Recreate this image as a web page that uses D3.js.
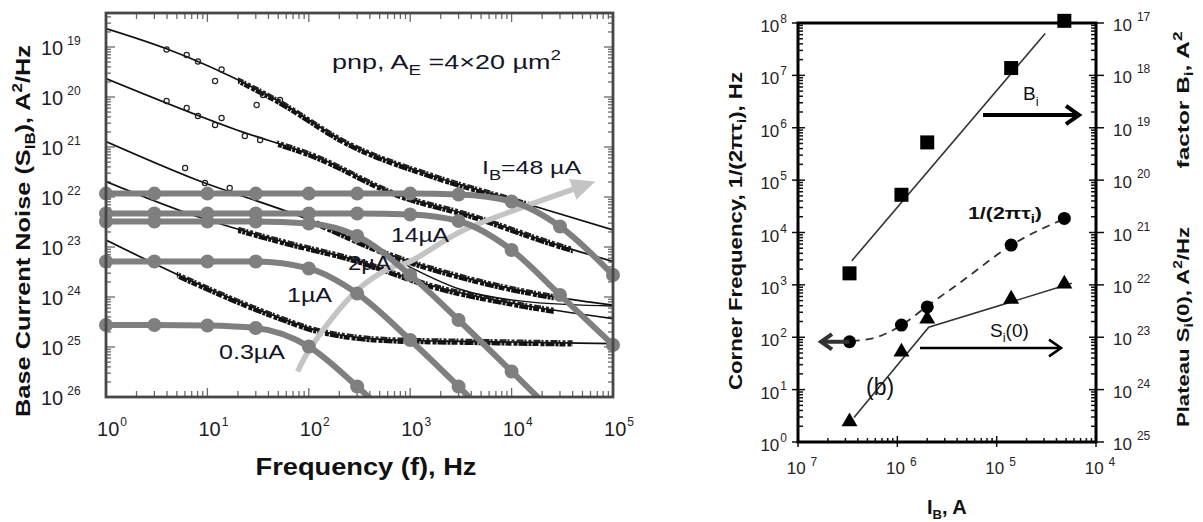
<!DOCTYPE html>
<html><head><meta charset="utf-8">
<script src="https://cdn.jsdelivr.net/npm/d3@7"></script>
<style>
body{margin:0;background:#fff}
svg{display:block}
text{font-family:"Liberation Sans",Arial,sans-serif}
</style>
</head><body>
<svg id="c" width="1203" height="522"></svg>
<script>
// ================= DATA =================
// ---- panel (a): base current noise vs frequency ----
const freqTicks = [1, 10, 100, 1e3, 1e4, 1e5];
const freqTickExp = ["0", "1", "2", "3", "4", "5"];
const noiseTicks = [1e-19, 1e-20, 1e-21, 1e-22, 1e-23, 1e-24, 1e-25, 1e-26];
const noiseTickExp = ["19", "20", "21", "22", "23", "24", "25", "26"];

// measured noise fits (black), [f (Hz), S (A^2/Hz)]
const noise48 = [[1,2.34e-19],[3.9,9.3e-20],[48,8.7e-21],[245,1.17e-21],[1740,2.57e-22],[1.05e4,8.7e-23],[1e5,2.19e-23]];
const noise14 = [[1,2.34e-20],[19.5,2.19e-21],[117,6.46e-22],[708,1.17e-22],[4270,4.07e-23],[2.57e4,1.17e-23],[1e5,5.13e-24]];
const noise2  = [[1,1.29e-21],[7.9,2.19e-22],[83,4.07e-23],[708,6.46e-24],[4270,2.19e-24],[2.57e4,1.02e-24],[1e5,6.9e-25]];
const noise2b = [[800,5.0e-24],[3160,1.41e-24],[1.58e4,7.9e-25],[1e5,6.6e-25]];
const noise1  = [[1,2.04e-22],[7.9,4.07e-23],[48,1.38e-23],[288,5.5e-24],[1740,1.62e-24],[1.05e4,7.4e-25],[1e5,3.7e-25]];
const noise03 = [[1,1.38e-23],[7.9,1.86e-24],[48,4.07e-25],[117,2.19e-25],[708,1.38e-25],[4270,1.29e-25],[1e5,1.17e-25]];
// frequency span where the measured points are dense
const denseSpan = [[20,1.7e4],[48,4e4],[117,2.6e4],[20,2.6e4],[5,4e4]];
// a few sparse low-frequency data circles
const scatter48 = [[3.96,8.91e-20],[6.25,6.92e-20],[8.07,5.13e-20],[11.9,2.09e-20],[13.8,3.55e-20],[30.6,6.92e-21],[35.3,1.10e-20],[52,8.71e-21]];
const scatter14 = [[3.96,8.32e-21],[6.25,6.03e-21],[8.07,4.17e-21],[11.9,2.75e-21],[13.8,3.80e-21],[23.4,1.66e-21],[33.1,1.38e-21]];
const scatter2  = [[6.03,3.80e-22],[9.46,1.91e-22],[16.6,1.51e-22]];

// Lorentzian components (gray), markers at these frequencies
const markerFreq = [1, 3, 10, 30, 100, 300, 1e3, 3e3, 1e4, 3e4, 1e5];
const lor48 = [1.17e-22,1.17e-22,1.17e-22,1.17e-22,1.17e-22,1.17e-22,1.17e-22,1.12e-22,8.13e-23,2.57e-23,2.75e-24];
const lor14 = [4.68e-23,4.68e-23,4.68e-23,4.68e-23,4.68e-23,4.68e-23,4.47e-23,3.31e-23,8.71e-24,1.10e-24,1.10e-25];
const lor2  = [3.24e-23,3.24e-23,3.24e-23,3.24e-23,2.95e-23,1.66e-23,2.75e-24,3.47e-25,3.24e-26,3.63e-27];
const lor1  = [5.13e-24,5.13e-24,5.13e-24,5.13e-24,3.72e-24,1.17e-24,1.38e-25,1.62e-26,1.41e-27];
const lor03 = [2.75e-25,2.75e-25,2.69e-25,2.40e-25,1.02e-25,1.62e-26,1.55e-27];

// light-gray trend arrow through the corner frequencies
const trendF = [77.6, 105, 295, 631, 977, 3090, 9550, 43650];
const trendS = [3.24e-26, 1.0e-25, 1.32e-24, 3.80e-24, 5.01e-24, 2.0e-23, 5.01e-23, 1.51e-22];

// ---- panel (b): parameters vs base current ----
const iBTicks = [1e-7, 1e-6, 1e-5, 1e-4];
const iBTickExp = ["7", "6", "5", "4"];
const cornerTicks = [1,10,100,1e3,1e4,1e5,1e6,1e7,1e8];
const cornerTickExp = ["0","1","2","3","4","5","6","7","8"];
const rightTicks = [1e-17,1e-18,1e-19,1e-20,1e-21,1e-22,1e-23,1e-24,1e-25];
const rightTickExp = ["17","18","19","20","21","22","23","24","25"];

const iB = [3.3e-7, 1.1e-6, 2.0e-6, 1.4e-5, 4.8e-5];
const bFactor = [1.66e-22, 5.25e-21, 5.25e-20, 1.38e-18, 1.10e-17];
const cornerF = [82, 171, 380, 5750, 18600];
const plateauS = [2.34e-25, 5.01e-24, 2.14e-23, 5.13e-23, 1.0e-22];

const bFitI = [3.48e-7, 3.08e-5];
const bFitB = [2.88e-22, 6.31e-18];
const cornerFitI = [3.47e-7, 5.62e-7, 1.10e-6, 1.95e-6, 4.27e-6, 1.41e-5, 4.90e-5];
const cornerFitF = [85, 95, 170, 380, 1100, 5750, 18600];
const plateauFitI = [3.66e-7, 2.07e-6, 5.70e-5];
const plateauFitS = [2.95e-25, 1.55e-23, 1.07e-22];

// ================= DRAW =================
const svg = d3.select("#c");
const defs = svg.append("defs");

function logTicks(lo, hi){
  const out = [];
  const a = Math.floor(Math.log10(Math.min(lo,hi))) - 1, b = Math.ceil(Math.log10(Math.max(lo,hi)));
  const mn = Math.min(lo,hi), mx = Math.max(lo,hi);
  for (let n = a; n <= b; n++) for (let k = 1; k < 10; k++) {
    const v = k * Math.pow(10, n);
    if (v >= mn * 0.999 && v <= mx * 1.001) out.push({v, major: k === 1});
  }
  return out;
}
function powLabel(g, x, y, exp, anchor, size, supSize, dx, dy, color){
  const t = g.append("text").attr("x", x).attr("y", y).attr("text-anchor", anchor)
    .attr("font-size", size).attr("fill", color);
  t.append("tspan").text("10");
  t.append("tspan").attr("dx", dx).attr("dy", dy).attr("font-size", supSize).text(exp);
}

// ---------- Panel (a) ----------
const xA = d3.scaleLog().domain([1, 1e5]).range([106, 613]);
const yA = d3.scaleLog().domain([1e-26, Math.pow(10, -18.32)]).range([397, 13]);
const gA = svg.append("g");
defs.append("clipPath").attr("id", "clipA").append("rect")
  .attr("x", xA(1)).attr("y", yA.range()[1]).attr("width", xA(1e5) - xA(1)).attr("height", yA(1e-26) - yA.range()[1]);
defs.append("clipPath").attr("id", "clipAwide").append("rect")
  .attr("x", xA(1) - 10).attr("y", yA.range()[1]).attr("width", xA(1e5) - xA(1) + 20).attr("height", yA(1e-26) - yA.range()[1]);

// ticks
const tickCol = "#6a6a6a";
const xt = logTicks(1, 1e5), yt = logTicks(1e-26, Math.pow(10, -18.32));
const tg = gA.append("g").attr("stroke", tickCol).attr("stroke-width", 1.3);
xt.forEach(t => {
  const x = xA(t.v), L = t.major ? 9 : 6;
  tg.append("line").attr("x1", x).attr("x2", x).attr("y1", yA(1e-26)).attr("y2", yA(1e-26) - L);
  tg.append("line").attr("x1", x).attr("x2", x).attr("y1", yA.range()[1]).attr("y2", yA.range()[1] + L);
});
yt.forEach(t => {
  const y = yA(t.v), L = t.major ? 9 : 5;
  tg.append("line").attr("x1", xA(1)).attr("x2", xA(1) + L).attr("y1", y).attr("y2", y);
  tg.append("line").attr("x1", xA(1e5)).attr("x2", xA(1e5) - L).attr("y1", y).attr("y2", y);
});

// black measured curves
const lineA = d3.line().x(d => xA(d[0])).y(d => yA(d[1])).curve(d3.curveMonotoneX);
const noiseSets = [noise48, noise14, noise2, noise1, noise03];
const cg = gA.append("g").attr("clip-path", "url(#clipA)");
noiseSets.forEach((c, i) => {
  cg.append("path").attr("d", lineA(c)).attr("fill", "none").attr("stroke", "#111").attr("stroke-width", 1.7);
  const cid = "dense" + i;
  defs.append("clipPath").attr("id", cid).append("rect")
    .attr("x", xA(denseSpan[i][0])).attr("y", 0)
    .attr("width", xA(denseSpan[i][1]) - xA(denseSpan[i][0])).attr("height", 522);
  const dg = cg.append("g").attr("clip-path", "url(#" + cid + ")");
  dg.append("path").attr("d", lineA(c))
    .attr("fill", "none").attr("stroke", "#111").attr("stroke-width", 4.2)
    .attr("stroke-dasharray", "9 1 3 1 6 2 4 1").attr("transform", "translate(0,1.5)");
  dg.append("path").attr("d", lineA(c))
    .attr("fill", "none").attr("stroke", "#222").attr("stroke-width", 2.4)
    .attr("stroke-dasharray", "3 2 7 1 2 2").attr("transform", "translate(0,-1.5)");
});
cg.append("path").attr("d", lineA(noise2b)).attr("fill", "none").attr("stroke", "#111").attr("stroke-width", 1.4);
[scatter48, scatter14, scatter2].forEach(s => {
  cg.selectAll(null).data(s).enter().append("circle")
    .attr("cx", d => xA(d[0])).attr("cy", d => yA(d[1])).attr("r", 2.6)
    .attr("fill", "none").attr("stroke", "#222").attr("stroke-width", 1.2);
});

// light gray trend arrow
defs.append("marker").attr("id", "trendHead").attr("markerUnits", "userSpaceOnUse")
  .attr("markerWidth", 26).attr("markerHeight", 24).attr("refX", 4).attr("refY", 12)
  .attr("orient", "auto").append("path").attr("d", "M0,1 L24,12 L0,23 Z").attr("fill", "#c4c4c4");
const trendLine = d3.line().x(d => xA(d[0])).y(d => yA(d[1])).curve(d3.curveCatmullRom);
gA.append("path").attr("d", trendLine(trendF.map((f, i) => [f, trendS[i]])))
  .attr("fill", "none").attr("stroke", "#c4c4c4").attr("stroke-width", 5.5)
  .attr("marker-end", "url(#trendHead)");

// gray Lorentzian curves with markers
const lorSets = [lor48, lor14, lor2, lor1, lor03];
const lg = gA.append("g");
lorSets.forEach(s => {
  const pts = s.map((v, i) => [markerFreq[i], v]);
  lg.append("path").attr("clip-path", "url(#clipAwide)").attr("d", lineA(pts)).attr("fill", "none")
    .attr("stroke", "#7f7f7f").attr("stroke-width", 6).attr("stroke-linecap", "round");
  lg.selectAll(null).data(pts.filter(d => d[1] >= 1e-26)).enter().append("circle")
    .attr("cx", d => xA(d[0])).attr("cy", d => yA(d[1])).attr("r", 7).attr("fill", "#7f7f7f");
});

// frame
gA.append("rect").attr("x", xA(1)).attr("y", yA.range()[1]).attr("width", xA(1e5) - xA(1))
  .attr("height", yA(1e-26) - yA.range()[1]).attr("fill", "none").attr("stroke", "#474747").attr("stroke-width", 2.8);

// tick labels
const labCol = "#231c26";
freqTicks.forEach((v, i) => powLabel(gA, xA(v) + 6, 436, freqTickExp[i], "middle", 20, 12, 1, -10, labCol));
noiseTicks.forEach((v, i) => powLabel(gA, 41, yA(v) + 8, noiseTickExp[i], "start", 20, 12, 4, -10, labCol));

// axis titles
const yTitA = gA.append("text").attr("transform", "translate(30,231) rotate(-90)").attr("text-anchor", "middle")
  .attr("font-size", 21).attr("font-weight", "bold").attr("fill", "#111")
  .attr("textLength", 372).attr("lengthAdjust", "spacingAndGlyphs");
yTitA.append("tspan").text("Base Current Noise (S");
yTitA.append("tspan").attr("font-size", 14).attr("dy", 5).text("IB");
yTitA.append("tspan").attr("dy", -5).text("), A");
yTitA.append("tspan").attr("font-size", 14).attr("dy", -8).text("2");
yTitA.append("tspan").attr("dy", 8).text("/Hz");
gA.append("text").attr("x", 366).attr("y", 475).attr("text-anchor", "middle").attr("font-size", 23)
  .attr("font-weight", "bold").attr("fill", "#111").attr("textLength", 221).attr("lengthAdjust", "spacingAndGlyphs")
  .text("Frequency (f), Hz");

// annotations
const annCol = "#141428";
const pnp = gA.append("text").attr("x", 332).attr("y", 69).attr("font-size", 20).attr("fill", annCol)
  .attr("textLength", 229).attr("lengthAdjust", "spacingAndGlyphs");
pnp.append("tspan").text("pnp, A");
pnp.append("tspan").attr("font-size", 14).attr("dy", 6).text("E");
pnp.append("tspan").attr("dy", -6).text(" =4\u00d720 \u00b5m");
pnp.append("tspan").attr("font-size", 14).attr("dy", -9).text("2");
const ib = gA.append("text").attr("x", 482).attr("y", 174).attr("font-size", 19).attr("fill", annCol)
  .attr("textLength", 99).attr("lengthAdjust", "spacingAndGlyphs");
ib.append("tspan").text("I");
ib.append("tspan").attr("font-size", 14).attr("dy", 6).text("B");
ib.append("tspan").attr("dy", -6).text("=48 \u00b5A");
const curLabels = [["14\u00b5A", 391, 242, 58], ["2\u00b5A", 348, 270, 43], ["1\u00b5A", 287, 302, 45], ["0.3\u00b5A", 219, 359, 66]];
curLabels.forEach(l => gA.append("text").attr("x", l[1]).attr("y", l[2]).attr("font-size", 20).attr("fill", annCol)
  .attr("textLength", l[3]).attr("lengthAdjust", "spacingAndGlyphs").text(l[0]));

// ---------- Panel (b) ----------
const xB = d3.scaleLog().domain([1e-7, 1e-4]).range([798, 1096]);
const yBL = d3.scaleLog().domain([1, 1e8]).range([442, 23]);
const yBR = d3.scaleLog().domain([1e-25, 1e-17]).range([442, 23]);
const gB = svg.append("g");

// ticks
const bt = gB.append("g").attr("stroke", "#111").attr("stroke-width", 1.5);
logTicks(1, 1e8).forEach(t => {
  const y = yBL(t.v);
  bt.append("line").attr("x1", t.major ? 792 : 798).attr("x2", 798 + (t.major ? 7 : 5)).attr("y1", y).attr("y2", y);
});
logTicks(1e-25, 1e-17).forEach(t => {
  const y = yBR(t.v);
  bt.append("line").attr("x1", 1096 - (t.major ? 7 : 5)).attr("x2", t.major ? 1104 : 1096).attr("y1", y).attr("y2", y);
});
logTicks(1e-7, 1e-4).forEach(t => {
  const x = xB(t.v);
  bt.append("line").attr("x1", x).attr("x2", x).attr("y1", 442 - (t.major ? 6 : 4)).attr("y2", t.major ? 447 : 442);
});
// frame
gB.append("rect").attr("x", 798).attr("y", 23).attr("width", 298).attr("height", 419)
  .attr("fill", "none").attr("stroke", "#000").attr("stroke-width", 3);

// fits
const lineBR = d3.line().x(d => xB(d[0])).y(d => yBR(d[1]));
const lineBL = d3.line().x(d => xB(d[0])).y(d => yBL(d[1])).curve(d3.curveMonotoneX);
gB.append("path").attr("d", lineBR(bFitI.map((v, i) => [v, bFitB[i]]))).attr("fill", "none")
  .attr("stroke", "#333").attr("stroke-width", 1.6);
gB.append("path").attr("d", lineBL(cornerFitI.map((v, i) => [v, cornerFitF[i]]))).attr("fill", "none")
  .attr("stroke", "#333").attr("stroke-width", 1.8).attr("stroke-dasharray", "8 6");
gB.append("path").attr("d", lineBR(plateauFitI.map((v, i) => [v, plateauFitS[i]]))).attr("fill", "none")
  .attr("stroke", "#333").attr("stroke-width", 1.6);

// markers
gB.selectAll(null).data(iB).enter().append("rect")
  .attr("x", (d) => xB(d) - 7).attr("y", (d, i) => yBR(bFactor[i]) - 7).attr("width", 14).attr("height", 14).attr("fill", "#000");
gB.selectAll(null).data(iB).enter().append("circle")
  .attr("cx", d => xB(d)).attr("cy", (d, i) => yBL(cornerF[i])).attr("r", 6.5).attr("fill", "#000");
const tri = d3.symbol().type(d3.symbolTriangle).size(110);
gB.selectAll(null).data(iB).enter().append("path").attr("d", tri)
  .attr("transform", (d, i) => `translate(${xB(d)},${yBR(plateauS[i]) - 1})`).attr("fill", "#000");

// annotation arrows
function arrow(x1, y, x2, w, head, col){
  gB.append("line").attr("x1", x1).attr("x2", x2).attr("y1", y).attr("y2", y).attr("stroke", col).attr("stroke-width", w);
  const s = Math.sign(x2 - x1);
  gB.append("path").attr("d", `M${x2 - s * head},${y - head * 0.7} L${x2},${y} L${x2 - s * head},${y + head * 0.7}`)
    .attr("fill", "none").attr("stroke", col).attr("stroke-width", w).attr("stroke-linejoin", "miter");
}
arrow(xB(iB[0]), yBL(cornerF[0]), 821, 4, 11, "#333");
arrow(983, 115, 1079, 4, 13, "#000");
arrow(920, 348, 1061, 2.6, 12, "#000");

// text labels panel (b)
const bLab = gB.append("text").attr("x", 1023).attr("y", 100).attr("font-size", 19).attr("fill", "#111");
bLab.append("tspan").text("B");
bLab.append("tspan").attr("font-size", 13).attr("dy", 6).text("i");
const cLab = gB.append("text").attr("x", 968).attr("y", 219).attr("font-size", 17).attr("font-weight", "bold").attr("fill", "#111")
  .attr("textLength", 74).attr("lengthAdjust", "spacingAndGlyphs");
cLab.append("tspan").text("1/(2\u03c0\u03c4");
cLab.append("tspan").attr("font-size", 12).attr("dy", 4).text("i");
cLab.append("tspan").attr("dy", -4).text(")");
const sLab = gB.append("text").attr("x", 990).attr("y", 337).attr("font-size", 19).attr("fill", "#111");
sLab.append("tspan").text("S");
sLab.append("tspan").attr("font-size", 13).attr("dy", 5).text("i");
sLab.append("tspan").attr("dy", -5).text("(0)");
gB.append("text").attr("x", 866).attr("y", 395).attr("font-size", 23).attr("fill", "#111")
  .attr("font-family", "'Liberation Serif','Times New Roman',serif").text("(b)");

// tick labels panel (b)
const labColB = "#2a2226";
iBTicks.forEach((v, i) => powLabel(gB, xB(v) + 4, 474, iBTickExp[i], "middle", 17, 12, 5, -8, labColB));
cornerTicks.forEach((v, i) => powLabel(gB, 787, yBL(v) + 9, cornerTickExp[i], "end", 17, 12, 1, -9, labColB));
rightTicks.forEach((v, i) => powLabel(gB, 1113, yBR(v) + 8, rightTickExp[i], "start", 17, 12, 5, -10, labColB));

// axis titles panel (b)
const yTitB = gB.append("text").attr("transform", "translate(742,231) rotate(-90)").attr("text-anchor", "middle")
  .attr("font-size", 18).attr("font-weight", "bold").attr("fill", "#111")
  .attr("textLength", 318).attr("lengthAdjust", "spacingAndGlyphs");
yTitB.append("tspan").text("Corner Frequency, 1/(2\u03c0\u03c4");
yTitB.append("tspan").attr("font-size", 12).attr("dy", 4).text("i");
yTitB.append("tspan").attr("dy", -4).text("), Hz");
const fTit = gB.append("text").attr("transform", "translate(1189,100) rotate(-90)").attr("text-anchor", "middle")
  .attr("font-size", 17).attr("font-weight", "bold").attr("fill", "#111")
  .attr("textLength", 137).attr("lengthAdjust", "spacingAndGlyphs");
fTit.append("tspan").text("factor B");
fTit.append("tspan").attr("font-size", 12).attr("dy", 4).text("i");
fTit.append("tspan").attr("dy", -4).text(", A");
fTit.append("tspan").attr("font-size", 12).attr("dy", -7).text("2");
const pTit = gB.append("text").attr("transform", "translate(1189,327) rotate(-90)").attr("text-anchor", "middle")
  .attr("font-size", 17).attr("font-weight", "bold").attr("fill", "#111")
  .attr("textLength", 200).attr("lengthAdjust", "spacingAndGlyphs");
pTit.append("tspan").text("Plateau S");
pTit.append("tspan").attr("font-size", 12).attr("dy", 4).text("i");
pTit.append("tspan").attr("dy", -4).text("(0), A");
pTit.append("tspan").attr("font-size", 12).attr("dy", -7).text("2");
pTit.append("tspan").attr("dy", 7).text("/Hz");
const xTitB = gB.append("text").attr("x", 927).attr("y", 514).attr("font-size", 20).attr("font-weight", "bold").attr("fill", "#111");
xTitB.append("tspan").text("I");
xTitB.append("tspan").attr("font-size", 13).attr("dy", 5).text("B");
xTitB.append("tspan").attr("dy", -5).text(", A");
</script>
</body></html>
